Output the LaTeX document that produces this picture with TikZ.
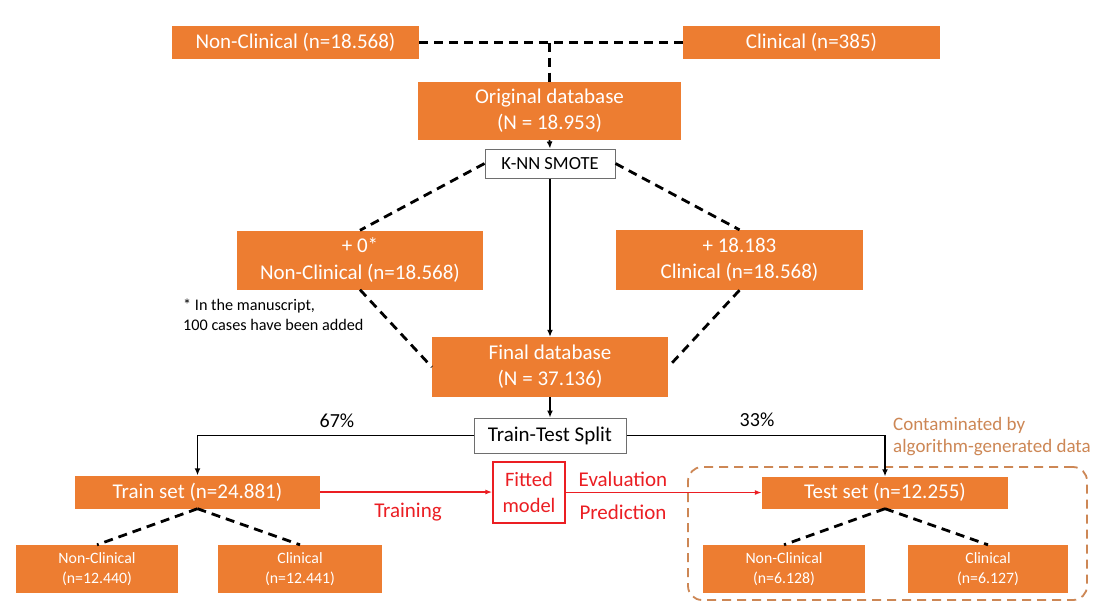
\documentclass[tikz,border=0pt]{standalone}
\usepackage{fontspec}
\setmainfont{Carlito}
\usetikzlibrary{arrows.meta,calc}
\definecolor{orgc}{RGB}{237,125,49}
\definecolor{redc}{RGB}{235,30,35}
\definecolor{contc}{RGB}{205,135,85}
\definecolor{boxgray}{RGB}{110,110,110}
\tikzset{
  fs/.style={font=\fontsize{#1}{#1}\selectfont\setlength\baselineskip{1.25em}},
  obox/.style={fill=orgc, text=white, inner sep=0pt, align=center},
  wbox/.style={fill=white, draw=boxgray, line width=1pt, inner sep=0pt, align=center},
  rbox/.style={fill=white, draw=redc, line width=1.4pt, text=redc, inner sep=0pt, align=center},
  dline/.style={line width=2.8pt, dash pattern=on 9pt off 6pt},
  sarrow/.style={line width=1.8pt, -{Latex[length=7pt,width=6pt]}},
  rarrow/.style={redc, line width=1.6pt, -{Latex[length=7pt,width=5pt]}},
}
\begin{document}
\begin{tikzpicture}[x=1pt,y=-1pt]
\useasboundingbox[fill=white] (0,0) rectangle (1094,603);

% contaminated test region
\node[draw=contc, line width=1.8pt, dash pattern=on 9pt off 6pt, rounded corners=14pt,
      minimum width=399pt, minimum height=133pt, inner sep=0pt] (cont) at (887.5,533.5) {};
\node[anchor=north west, text=contc, fs=19, align=left, inner sep=0pt] (contlbl) at (893,417)
  {Contaminated by\\[-2pt]algorithm-generated data};

% top level
\node[obox, fs=21, minimum width=247pt, minimum height=33pt] (nc) at (295.5,42.5) {Non-Clinical (n=18.568)};
\node[obox, fs=21, minimum width=257pt, minimum height=33pt] (cl) at (811.5,42.5) {Clinical (n=385)};
\node[obox, fs=21, minimum width=263pt, minimum height=58pt] (orig) at (549.5,111) {Original database\\(N = 18.953)};
\node[wbox, fs=18.5, minimum width=130pt, minimum height=29pt] (knn) at (550,163.5) {K-NN SMOTE};

% oversampled groups
\node[obox, fs=21, minimum width=246pt, minimum height=59pt] (lft) at (360,260) {+ 0*\\Non-Clinical (n=18.568)};
\node[obox, fs=21, minimum width=247pt, minimum height=60pt] (rgt) at (739.5,260) {+ 18.183\\Clinical (n=18.568)};
\node[anchor=north west, fs=16.2, align=left, inner sep=0pt] (note) at (183,299)
  {* In the manuscript,\\100 cases have been added};

\node[obox, fs=21, minimum width=236pt, minimum height=60pt] (final) at (550,367) {Final database\\(N = 37.136)};
\node[wbox, fs=21, minimum width=152pt, minimum height=35pt] (split) at (550,435.5) {Train-Test Split};

% train / test
\node[obox, fs=21, minimum width=245pt, minimum height=33pt] (train) at (197.5,492) {Train set (n=24.881)};
\node[rbox, fs=20.5, minimum width=72pt, minimum height=61pt] (fit) at (529,492.5) {Fitted\\model};
\node[obox, fs=21, minimum width=246pt, minimum height=32pt] (test) at (885,492.5) {Test set (n=12.255)};

\node[obox, fs=15.8, minimum width=162pt, minimum height=48pt] (trnc) at (97,569) {Non-Clinical\\(n=12.440)};
\node[obox, fs=15.8, minimum width=164pt, minimum height=48pt] (trcl) at (300,569) {Clinical\\(n=12.441)};
\node[obox, fs=15.8, minimum width=162pt, minimum height=48pt] (tenc) at (784,569) {Non-Clinical\\(n=6.128)};
\node[obox, fs=15.8, minimum width=160pt, minimum height=48pt] (tecl) at (988,569) {Clinical\\(n=6.127)};

% connectors
\draw[dline] (nc.east) -- (cl.west);
\coordinate (topj) at (orig.north |- nc.east);
\draw[dline] (topj) -- (orig.north);
\draw[sarrow] (orig.south) -- (knn.north);
\draw[dline] (knn.west) -- (lft.north);
\draw[dline] (knn.east) -- (rgt.north);
\draw[sarrow] (knn.south) -- (final.north -| knn.south);
\draw[dline] (lft.south) -- (final.west);
\draw[dline] (rgt.south) -- (final.east);
\draw[sarrow] (final.south) -- (split.north -| final.south);
\draw[sarrow] (split.west) -| (train.north);
\node[fs=20] (p67) at (337,421) {67\%};
\draw[sarrow] (split.east) -| (test.north);
\node[fs=20] (p33) at (757,420) {33\%};

\draw[rarrow] (train.east) -- (fit.west |- train.east);
\draw[rarrow] (fit.east |- test.west) -- (test.west);
\node[text=redc, fs=21] (trn) at (408,512) {Training};
\node[text=redc, fs=21] (evl) at (623,479) {Evaluation};
\node[text=redc, fs=21] (prd) at (623,512) {Prediction};

\draw[dline] (train.south) -- (trnc.north);
\draw[dline] (train.south) -- (trcl.north);
\draw[dline] (test.south) -- (tenc.north);
\draw[dline] (test.south) -- (tecl.north);
\end{tikzpicture}
\end{document}
